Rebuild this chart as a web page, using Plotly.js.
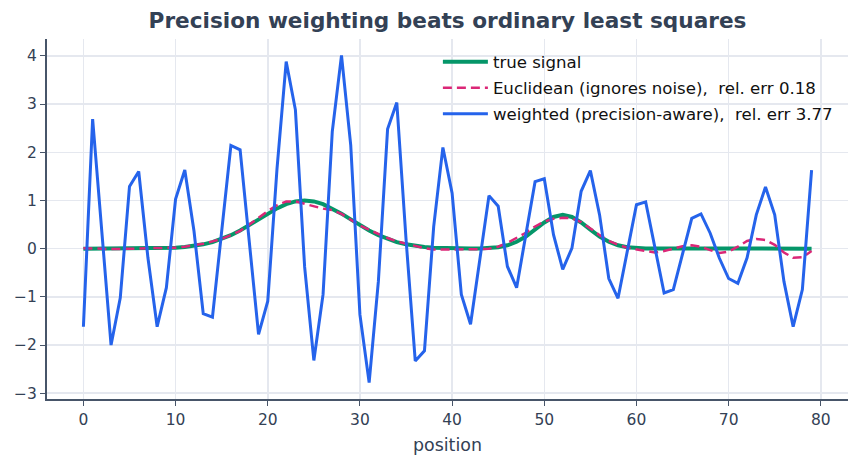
<!DOCTYPE html>
<html>
<head>
<meta charset="utf-8">
<script src="https://cdn.plot.ly/plotly-3.0.1.min.js"></script>
<style>
  html, body { margin: 0; padding: 0; background: #ffffff; }
  #chart { width: 859px; height: 464px; }
</style>
</head>
<body>
<div id="chart"></div>
<script>
// Sample positions 0..79
const positions = Array.from({length: 80}, (_, i) => i);

// Ground-truth signal: two smooth bumps
const trueSignal = [
  0, 0, 0, 0, 0, 0, 0, 0.003, 0.006, 0.011,
  0.02, 0.034, 0.056, 0.089, 0.135, 0.198, 0.278, 0.375, 0.487, 0.607,
  0.726, 0.835, 0.923, 0.98, 1.0, 0.98, 0.923, 0.835, 0.726, 0.607,
  0.487, 0.375, 0.278, 0.198, 0.135, 0.089, 0.056, 0.034, 0.02, 0.011,
  0.006, 0.003, 0.002, 0.004, 0.012, 0.031, 0.07, 0.142, 0.252, 0.394,
  0.542, 0.657, 0.70, 0.657, 0.542, 0.394, 0.252, 0.142, 0.07, 0.031,
  0.012, 0.004, 0.001, 0, 0, 0, 0, 0, 0, 0,
  0, 0, 0, 0, 0, 0, 0, 0, 0, 0
];

// Ordinary (Euclidean) least-squares reconstruction
const euclidean = [
  0.01, 0.01, 0.0, -0.01, -0.01, 0.0, 0.0, 0.01, 0.01, 0.01,
  0.02, 0.04, 0.07, 0.10, 0.15, 0.20, 0.28, 0.37, 0.50, 0.64,
  0.78, 0.90, 0.98, 0.98, 0.93, 0.87, 0.83, 0.80, 0.72, 0.60,
  0.48, 0.39, 0.30, 0.22, 0.15, 0.10, 0.05, 0.01, -0.02, -0.02,
  -0.01, -0.01, -0.01, -0.01, 0.0, 0.04, 0.12, 0.22, 0.33, 0.46,
  0.56, 0.62, 0.64, 0.63, 0.55, 0.42, 0.28, 0.16, 0.08, 0.02,
  -0.02, -0.05, -0.08, -0.05, 0.0, 0.05, 0.07, 0.04, -0.03, -0.09,
  -0.06, 0.04, 0.16, 0.20, 0.18, 0.08, -0.08, -0.19, -0.18, -0.05
];

// Precision-weighted reconstruction
const weighted = [
  -1.62, 2.69, 0.35, -2.0, -1.02, 1.29, 1.60, -0.19, -1.62, -0.81,
  1.03, 1.63, 0.36, -1.35, -1.42, 0.40, 2.14, 2.05, 0.15, -1.78,
  -1.09, 1.65, 3.88, 2.88, -0.38, -2.32, -0.95, 2.43, 4.01, 2.15,
  -1.37, -2.78, -0.68, 2.48, 3.03, 0.20, -2.33, -2.12, 0.45, 2.10,
  1.15, -0.95, -1.57, -0.20, 1.10, 0.88, -0.37, -0.81, 0.25, 1.39,
  1.45, 0.29, -0.43, 0.01, 1.19, 1.62, 0.70, -0.62, -1.03, -0.05,
  0.91, 0.97, 0.0, -0.92, -0.85, -0.10, 0.63, 0.72, 0.32, -0.20,
  -0.62, -0.72, -0.19, 0.70, 1.28, 0.70, -0.68, -1.62, -0.85, 1.63
];

const seriesNames = [
  'true signal',
  'Euclidean (ignores noise),\u00a0 rel. err 0.18',
  'weighted (precision-aware),\u00a0 rel. err 3.77'
];

const FONT = 'DejaVu Sans, Verdana, sans-serif';
const INK = '#334155';
const AXIS = '#475569';
const GRID = '#e5e8ef';

const traces = [
  {
    x: positions, y: trueSignal, name: seriesNames[0], legendgroup: 'a',
    type: 'scatter', mode: 'lines',
    line: {color: '#059669', width: 4}
  },
  {
    x: positions, y: euclidean, name: seriesNames[1], legendgroup: 'b',
    type: 'scatter', mode: 'lines',
    line: {color: '#db2777', width: 2.5, dash: '9px,5px'}
  },
  {
    x: positions, y: weighted, name: seriesNames[2], legendgroup: 'c',
    type: 'scatter', mode: 'lines',
    line: {color: '#2563eb', width: 3}
  }
];

const layout = {
  width: 859,
  height: 464,
  margin: {l: 47, r: 11, t: 39, b: 65},
  paper_bgcolor: '#ffffff',
  plot_bgcolor: '#ffffff',
  font: {family: FONT, color: INK, size: 15},
  title: {
    text: 'Precision weighting beats ordinary least squares',
    font: {family: FONT, size: 21.6, color: INK, weight: 'bold'},
    x: 0.5, xref: 'paper', xanchor: 'center',
    y: 0.955, yref: 'container', yanchor: 'middle'
  },
  xaxis: {
    title: {text: 'position', font: {size: 17.4, color: INK}, standoff: 11},
    range: [-3.95, 82.95],
    tickvals: [0, 10, 20, 30, 40, 50, 60, 70, 80],
    showline: true, linecolor: AXIS, linewidth: 2,
    ticks: 'outside', ticklen: 5, tickcolor: AXIS, tickwidth: 1,
    showgrid: true, gridcolor: GRID, gridwidth: 1.5,
    zeroline: false,
    tickfont: {size: 15.5, color: INK}
  },
  yaxis: {
    range: [-3.12, 4.35],
    tickvals: [-3, -2, -1, 0, 1, 2, 3, 4],
    showline: true, linecolor: AXIS, linewidth: 2,
    ticks: 'outside', ticklen: 5, tickcolor: AXIS, tickwidth: 1,
    showgrid: true, gridcolor: GRID, gridwidth: 1.5,
    zeroline: false,
    tickfont: {size: 15.5, color: INK}
  },
  showlegend: true,
  legend: {
    x: 0.488, xanchor: 'left',
    y: 0.985, yanchor: 'top',
    traceorder: 'grouped',
    tracegroupgap: 1.4,
    itemwidth: 45,
    bgcolor: 'rgba(0,0,0,0)',
    borderwidth: 0,
    font: {family: FONT, size: 16.6, color: '#111111'}
  }
};

Plotly.newPlot('chart', traces, layout, {displayModeBar: false, staticPlot: true});
</script>
</body>
</html>
